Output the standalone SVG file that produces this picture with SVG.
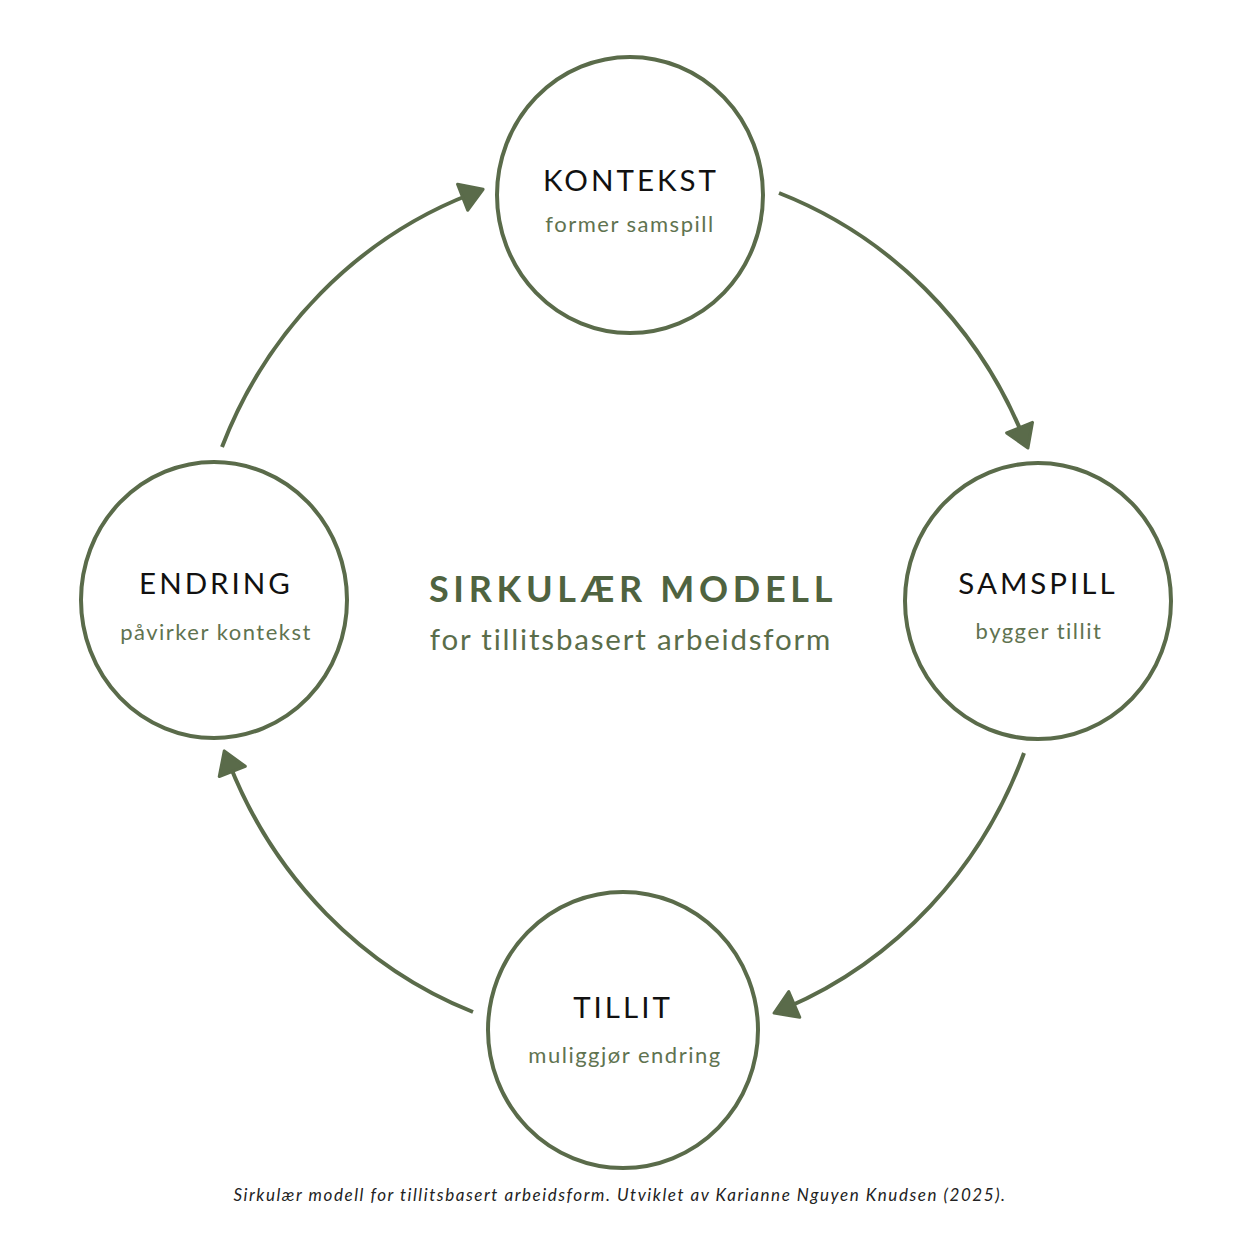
<svg xmlns="http://www.w3.org/2000/svg" width="1254" height="1254" viewBox="0 0 1254 1254">
<style>
.node{fill:#ffffff;stroke:#5a6b4a;stroke-width:4}
.conn{fill:none;stroke:#5a6b4a;stroke-width:4}
.ttl{font-family:Lato,"Open Sans",sans-serif;font-size:29.5px;fill:#111111;letter-spacing:3px;text-anchor:middle}
.sub{font-family:Lato,"Open Sans",sans-serif;font-size:22px;fill:#5f7350;letter-spacing:1.5px;text-anchor:middle}
.main{font-family:Lato,"Open Sans",sans-serif;font-size:36px;font-weight:bold;fill:#4f6340;letter-spacing:4.7px;text-anchor:middle}
.main2{font-family:Lato,"Open Sans",sans-serif;font-size:29.5px;fill:#5a6d4a;letter-spacing:1.8px;text-anchor:middle}
.cap{font-family:Lato,"Open Sans",sans-serif;font-size:17px;font-style:italic;fill:#222222;letter-spacing:1.55px;text-anchor:middle}
</style>
<defs>
<marker id="ah" markerUnits="userSpaceOnUse" markerWidth="60" markerHeight="60" refX="0" refY="0" orient="auto" overflow="visible" viewBox="-30 -30 60 60">
<path d="M13,0 L-9,-14 L-9,14 Z" fill="#5a6b4a" stroke="#5a6b4a" stroke-width="3" stroke-linejoin="round"/>
</marker>
</defs>
<rect width="1254" height="1254" fill="#ffffff"/>
<g id="connectors">
<path class="conn" d="M779,193 A430,448 0 0 1 1023,436" marker-end="url(#ah)"/>
<path class="conn" d="M1024,753 A430,448 0 0 1 786,1008" marker-end="url(#ah)"/>
<path class="conn" d="M473,1012 A430,448 0 0 1 229,763" marker-end="url(#ah)"/>
<path class="conn" d="M222,447 A430,448 0 0 1 471,194" marker-end="url(#ah)"/>
</g>
<g id="kontekst">
<ellipse class="node" cx="630" cy="195" rx="133" ry="138"/>
<text class="ttl" x="631" y="191">KONTEKST</text>
<text class="sub" x="630" y="232">former samspill</text>
</g>
<g id="samspill">
<ellipse class="node" cx="1038" cy="601" rx="133" ry="138"/>
<text class="ttl" x="1038" y="594">SAMSPILL</text>
<text class="sub" x="1039" y="639">bygger tillit</text>
</g>
<g id="tillit">
<ellipse class="node" cx="623" cy="1030" rx="135" ry="138"/>
<text class="ttl" x="623" y="1018">TILLIT</text>
<text class="sub" x="625" y="1063">muliggjør endring</text>
</g>
<g id="endring">
<ellipse class="node" cx="214" cy="600" rx="133" ry="138"/>
<text class="ttl" x="216" y="594">ENDRING</text>
<text class="sub" x="216" y="640">påvirker kontekst</text>
</g>
<g id="center">
<text class="main" x="633" y="602">SIRKULÆR MODELL</text>
<text class="main2" x="631" y="650">for tillitsbasert arbeidsform</text>
</g>
<text class="cap" x="620" y="1201">Sirkulær modell for tillitsbasert arbeidsform. Utviklet av Karianne Nguyen Knudsen (2025).</text>
</svg>
